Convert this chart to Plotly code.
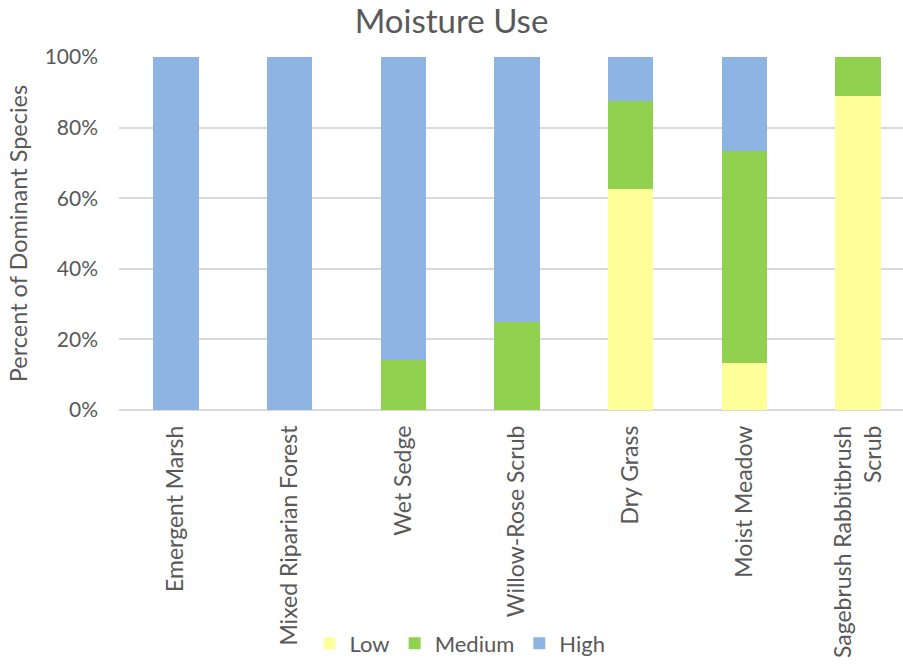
import plotly.graph_objects as go

# Habitat types and share of dominant species by moisture use
categories = [
    "Emergent Marsh",
    "Mixed Riparian Forest",
    "Wet Sedge",
    "Willow-Rose Scrub",
    "Dry Grass",
    "Moist Meadow",
    "Sagebrush Rabbitbrush<br>Scrub",
]
low = [0.0, 0.0, 0.0, 0.0, 0.625, 0.1333, 0.8889]
medium = [0.0, 0.0, 0.1429, 0.25, 0.25, 0.60, 0.1111]
high = [1.0, 1.0, 0.8571, 0.75, 0.125, 0.2667, 0.0]

series = [
    ("Low", low, "#FFFF99"),
    ("Medium", medium, "#92D050"),
    ("High", high, "#8EB4E3"),
]

FONT = "Lato"
GREY = "#595959"

fig = go.Figure()
for name, vals, color in series:
    fig.add_trace(go.Bar(
        name=name,
        x=categories,
        y=vals,
        width=0.4,
        marker=dict(color=color, line=dict(width=0)),
    ))

fig.update_layout(
    barmode="stack",
    width=903,
    height=665,
    paper_bgcolor="white",
    plot_bgcolor="white",
    margin=dict(l=119, r=0, t=57, b=251),
    font=dict(family=FONT, color=GREY, size=22),
    title=dict(
        text="Moisture Use",
        x=0.5,
        xref="container",
        xanchor="center",
        y=0.968,
        yref="container",
        yanchor="middle",
        font=dict(family=FONT, size=33, color=GREY),
    ),
    showlegend=True,
    legend=dict(
        orientation="h",
        x=0.435,
        xanchor="center",
        y=-0.661,
        yanchor="middle",
        font=dict(family=FONT, size=22, color=GREY),
        itemwidth=30,
        traceorder="normal",
    ),
    bargap=0,
)

fig.update_xaxes(
    type="category",
    range=[-0.5, 6.395],
    automargin=False,
    tickangle=-90,
    tickfont=dict(family=FONT, size=23, color=GREY),
    showgrid=False,
    showline=False,
    ticks="",
    ticklen=0,
    ticklabelstandoff=10,
)
fig.update_yaxes(
    range=[0, 1],
    automargin=False,
    tickvals=[0, 0.2, 0.4, 0.6, 0.8, 1.0],
    tickformat=".0%",
    tickfont=dict(family=FONT, size=21, color=GREY),
    showgrid=True,
    gridcolor="#D9D9D9",
    gridwidth=1.5,
    zeroline=True,
    zerolinecolor="#D9D9D9",
    zerolinewidth=1.5,
    showline=False,
    ticks="",
    ticklabelstandoff=20,
    title=dict(
        text="Percent of Dominant Species",
        font=dict(family=FONT, size=23.5, color=GREY),
        standoff=10,
    ),
)

fig.write_html("out.html")
